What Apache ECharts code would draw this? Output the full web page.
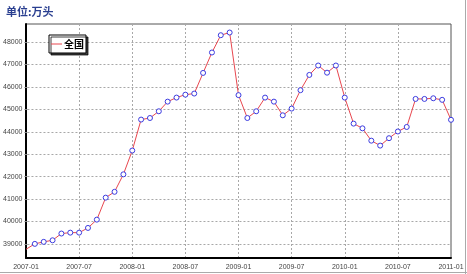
<!DOCTYPE html>
<html>
<head>
<meta charset="utf-8">
<script src="https://cdn.jsdelivr.net/npm/echarts@6/dist/echarts.min.js"></script>
<style>
html,body{margin:0;padding:0;background:#fff;}
#chart{width:467px;height:274px;}
</style>
</head>
<body>
<div id="chart"></div>
<script>
const months = [
  '2007-01','2007-02','2007-03','2007-04','2007-05','2007-06','2007-07','2007-08','2007-09','2007-10','2007-11','2007-12',
  '2008-01','2008-02','2008-03','2008-04','2008-05','2008-06','2008-07','2008-08','2008-09','2008-10','2008-11','2008-12',
  '2009-01','2009-02','2009-03','2009-04','2009-05','2009-06','2009-07','2009-08','2009-09','2009-10','2009-11','2009-12',
  '2010-01','2010-02','2010-03','2010-04','2010-05','2010-06','2010-07','2010-08','2010-09','2010-10','2010-11','2010-12',
  '2011-01'
];
const seriesName = '全国';
const values = [
  38760, 39000, 39090, 39160, 39460, 39500, 39500, 39710, 40080, 41060, 41320, 42100,
  43160, 44540, 44610, 44910, 45340, 45520, 45650, 45700, 46620, 47530, 48300, 48420,
  45630, 44610, 44910, 45520, 45340, 44730, 45030, 45850, 46530, 46950, 46630, 46950,
  45520, 44360, 44150, 43600, 43380, 43710, 44010, 44210, 45460, 45460, 45490, 45420,
  44530
];
const yTickMin = 39000, yTickMax = 48000, yTickStep = 1000;
const yRangeMin = 38370, yRangeMax = 48800;
const title = '单位:万头';

const chart = echarts.init(document.getElementById('chart'), null, {renderer: 'canvas'});
const gridLine = {show: true, lineStyle: {color: '#a8a8a8', type: [2, 2], width: 1}};
const labelFont = {fontFamily: 'Liberation Sans, Arial, sans-serif', fontSize: 7, color: '#444'};
const lineColor = '#e8474f';

chart.setOption({
  animation: false,
  backgroundColor: '#fff',
  title: {
    text: title, left: 1, top: 1,
    textStyle: {fontFamily: 'Noto Sans CJK SC', fontSize: 11, fontWeight: 'bold', color: '#2a3f90'}
  },
  legend: {
    left: 49, top: 35,
    orient: 'vertical',
    data: [{name: seriesName, icon: 'rect', itemStyle: {color: lineColor, borderWidth: 0}}],
    itemWidth: 11, itemHeight: 1,
    itemGap: 2,
    padding: [4, 2, 4, 2],
    backgroundColor: '#fff',
    borderColor: '#000', borderWidth: 1, borderRadius: 0,
    shadowColor: 'rgba(0,0,0,0.75)', shadowOffsetX: 2, shadowOffsetY: 2, shadowBlur: 0,
    textStyle: {fontFamily: 'Noto Sans CJK SC', fontSize: 10, fontWeight: 'bold', color: '#000', padding: [0, 0, 0, -3]}
  },
  grid: [
    {left: 26, right: 16, top: 24, bottom: 16, show: true, borderColor: '#555', borderWidth: 1, containLabel: false},
    {left: 26, right: 16, top: 42, bottom: 30, show: false, containLabel: false}
  ],
  xAxis: [
    {
      gridIndex: 0, type: 'category', data: months, boundaryGap: false,
      axisLine: {show: true, onZero: false, lineStyle: {color: '#000', width: 2}},
      axisTick: {show: false},
      axisLabel: Object.assign({interval: 5, margin: 6}, labelFont),
      splitLine: Object.assign({interval: 5}, gridLine)
    },
    {gridIndex: 1, type: 'value', min: 0, max: 1, show: false}
  ],
  yAxis: [
    {
      gridIndex: 0, type: 'value', min: yRangeMin, max: yRangeMax,
      axisLine: {show: true, onZero: false, lineStyle: {color: '#000', width: 2}},
      axisTick: {show: false}, axisLabel: {show: false}, splitLine: {show: false}
    },
    {
      gridIndex: 1, type: 'value', min: yTickMin, max: yTickMax, interval: yTickStep,
      axisLine: {show: false},
      axisTick: {show: true, length: 3, lineStyle: {color: '#888'}},
      axisLabel: Object.assign({margin: 5, formatter: v => String(v)}, labelFont),
      splitLine: gridLine
    }
  ],
  series: [
    {
      name: seriesName, type: 'line', xAxisIndex: 0, yAxisIndex: 0,
      data: values.map((v, i) => i === 0 ? {value: v, symbol: 'none'} : v),
      symbol: 'circle', symbolSize: 5, showAllSymbol: true,
      lineStyle: {color: lineColor, width: 1},
      itemStyle: {color: '#fff', borderColor: '#3b3be0', borderWidth: 1},
      z: 5
    }
  ],
  graphic: [
    {type: 'line', shape: {x1: 465.5, y1: 0, x2: 465.5, y2: 274}, style: {stroke: '#aaa', lineWidth: 1}},
    {type: 'line', shape: {x1: 0, y1: 272.5, x2: 467, y2: 272.5}, style: {stroke: '#aaa', lineWidth: 1}}
  ]
});
</script>
</body>
</html>
